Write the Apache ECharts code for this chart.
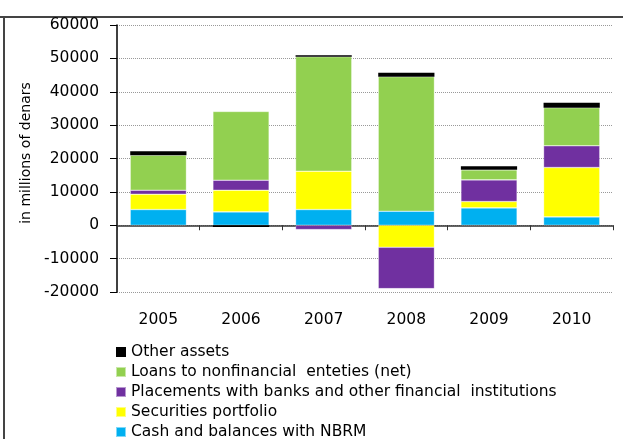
<!DOCTYPE html>
<html><head><meta charset="utf-8">
<script src="https://cdn.jsdelivr.net/npm/echarts@6/dist/echarts.min.js"></script>
<style>html,body{margin:0;padding:0;background:#fff}#c{width:623px;height:439px}</style>
</head><body><div id="c"></div>
<script>
const categories = ['2005','2006','2007','2008','2009','2010'];
const cash = [4700, 4000, 4700, 4200, 5200, 2500];
const securities = [4600, 6500, 11500, -6600, 1900, 14800];
const placements = [1200, 3000, -1300, -12400, 6500, 6500];
const loans = [10500, 20600, 34300, 40300, 3000, 11400];
const other = [1200, -500, 400, 1200, 1100, 1500];
const yTicks = {min: -20000, max: 60000, interval: 10000};
const yTitle = 'in millions of denars';

const font = 'DejaVu Sans';
const fs = 15.5;
const chart = echarts.init(document.getElementById('c'));
function s(name, data, color, border) {
  return {name, type: 'bar', stack: 'a', data, barCategoryGap: '32%', xAxisIndex: 0,
    itemStyle: border ? {color, borderColor: 'rgba(255,255,255,0.5)', borderWidth: 0.6} : {color}};
}
chart.setOption({
  animation: false,
  textStyle: {fontFamily: font},
  grid: {left: 117, right: 10, top: 25, bottom: 147},
  legend: {
    orient: 'vertical', left: 115, top: 344, height: 200, padding: 0,
    itemWidth: 10, itemHeight: 10, itemGap: 4, icon: 'rect',
    textStyle: {fontFamily: font, fontSize: fs, lineHeight: 16, color: '#000'},
    data: ['Other assets','Loans to nonfinancial  enteties (net)','Placements with banks and other financial  institutions','Securities portfolio','Cash and balances with NBRM']
  },
  xAxis: [{
    type: 'category', data: categories,
    axisLine: {onZero: true, lineStyle: {color: '#333', width: 1.5}},
    axisTick: {show: true, length: 5, lineStyle: {color: '#333'}},
    axisLabel: {show: false}
  }, {
    type: 'category', data: categories, position: 'bottom',
    axisLine: {show: false}, axisTick: {show: false}, splitLine: {show: false},
    axisLabel: {fontSize: fs, color: '#000', margin: 20}
  }],
  yAxis: {
    type: 'value', min: yTicks.min, max: yTicks.max, interval: yTicks.interval,
    axisLine: {show: true, lineStyle: {color: '#000', width: 1.5}},
    axisTick: {show: true, length: 7, lineStyle: {color: '#000'}},
    axisLabel: {fontSize: fs, color: '#000', margin: 18, formatter: v => String(v)},
    splitLine: {lineStyle: {type: 'dotted', color: '#999'}}
  },
  series: [
    s('Cash and balances with NBRM', cash, '#00B0F0', true),
    s('Securities portfolio', securities, '#FFFF00', true),
    s('Placements with banks and other financial  institutions', placements, '#7030A0', true),
    s('Loans to nonfinancial  enteties (net)', loans, '#92D050', true),
    s('Other assets', other, '#000000', false)
  ],
  graphic: [
    {type: 'line', shape: {x1: 0, y1: 17, x2: 623, y2: 17}, style: {stroke: '#444', lineWidth: 2}},
    {type: 'line', shape: {x1: 4, y1: 17, x2: 4, y2: 439}, style: {stroke: '#444', lineWidth: 2}},
    {type: 'text', x: 26, y: 153, rotation: Math.PI / 2,
      style: {text: yTitle, font: '14px "DejaVu Sans"', fill: '#000', align: 'center', verticalAlign: 'middle'}}
  ]
});
</script>
</body></html>
